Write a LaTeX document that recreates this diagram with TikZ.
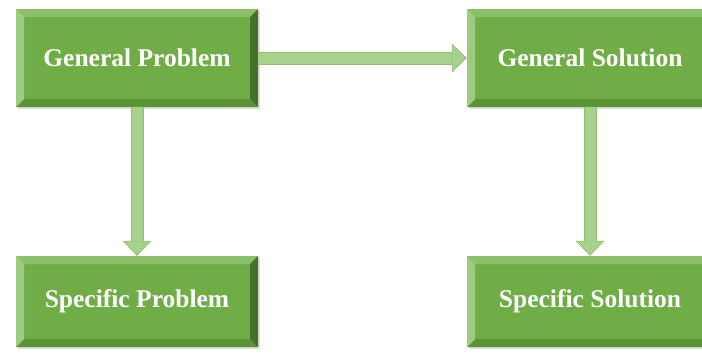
\documentclass[tikz,border=0pt]{standalone}
\usepackage{fontspec}
\setmainfont{Liberation Serif}
\usetikzlibrary{arrows.meta,shadows}

\definecolor{boxface}{HTML}{70AD47}
\definecolor{bevtop}{HTML}{8CC06A}
\definecolor{bevleft}{HTML}{9DCC80}
\definecolor{bevbottom}{HTML}{5A9436}
\definecolor{bevright}{HTML}{46712B}
\definecolor{arrowfill}{HTML}{A9D18E}
\definecolor{arrowedge}{HTML}{8FBE70}

\newcommand{\bev}{8pt}

\tikzset{
  bevelbox/.style={rectangle, fill=boxface, inner sep=0pt,
    text=white, font=\fontsize{25.5}{30}\selectfont\bfseries,
    drop shadow={opacity=0.25, shadow xshift=1.5pt, shadow yshift=-2pt},
    path picture={
      \coordinate (nw) at (path picture bounding box.north west);
      \coordinate (ne) at (path picture bounding box.north east);
      \coordinate (sw) at (path picture bounding box.south west);
      \coordinate (se) at (path picture bounding box.south east);
      \fill[bevtop] (nw) -- (ne) -- ([shift={(-\bev,-\bev)}]ne) -- ([shift={(\bev,-\bev)}]nw) -- cycle;
      \fill[bevbottom] (sw) -- (se) -- ([shift={(-\bev,\bev)}]se) -- ([shift={(\bev,\bev)}]sw) -- cycle;
      \fill[bevleft] (nw) -- (sw) -- ([shift={(\bev,\bev)}]sw) -- ([shift={(\bev,-\bev)}]nw) -- cycle;
      \fill[bevright] (ne) -- (se) -- ([shift={(-\bev,\bev)}]se) -- ([shift={(-\bev,-\bev)}]ne) -- cycle;
    }},
  fatarrow/.style={draw=arrowedge, line width=13pt,
    -{Triangle[length=15pt, width=29pt, line width=0pt]},
    postaction={draw=arrowfill, line width=11pt, shorten >=1.4pt,
      -{Triangle[length=13pt, width=26pt, line width=0pt]}}}
}

\begin{document}
\begin{tikzpicture}[x=1pt, y=-1pt]
    \useasboundingbox (0,0) rectangle (702,356);

    % Boxes
    \node[bevelbox, minimum width=242pt, minimum height=98pt] (gp) at (137,58) {General Problem};
    \node[bevelbox, minimum width=246pt, minimum height=98pt] (gs) at (590,58) {General Solution};
    \node[bevelbox, minimum width=242pt, minimum height=91pt] (sp) at (137,301.5) {Specific Problem};
    \node[bevelbox, minimum width=246pt, minimum height=91pt] (ss) at (590,301.5) {Specific Solution};

    % Arrows between boxes
    \draw[fatarrow] (gp.east) -- (gs.west);
    \draw[fatarrow] (gp.south) -- (sp.north);
    \draw[fatarrow] (gs.south) -- (ss.north);
\end{tikzpicture}
\end{document}
